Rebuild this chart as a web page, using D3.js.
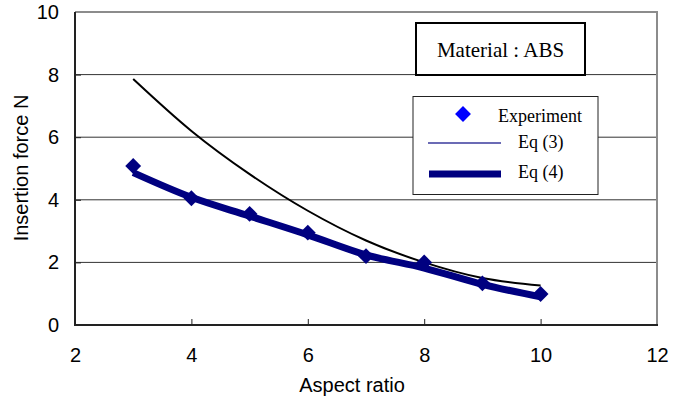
<!DOCTYPE html>
<html>
<head>
<meta charset="utf-8">
<script src="https://cdn.jsdelivr.net/npm/d3@7"></script>
<style>
  html, body { margin: 0; padding: 0; background: #fff; }
  svg { display: block; }
  .tick text { font-family: "Liberation Sans", Arial, sans-serif; font-size: 20px; fill: #000; }
</style>
</head>
<body>
<svg id="chart" width="683" height="396"></svg>
<script>
// Insertion force versus aspect ratio (material ABS)
const aspectRatio = [3, 4, 5, 6, 7, 8, 9, 10];
const experiment  = [5.08, 4.05, 3.55, 2.95, 2.2, 2.0, 1.33, 0.99];
const eq3         = [7.86, 6.2, 4.82, 3.65, 2.7, 2.0, 1.5, 1.26];
const eq4         = [4.87, 4.08, 3.48, 2.88, 2.24, 1.82, 1.3, 0.9];
const xTicks = [2, 4, 6, 8, 10, 12];
const yTicks = [0, 2, 4, 6, 8, 10];
const legendLabels = ["Experiment", "Eq (3)", "Eq (4)"];
const titleText = "Material : ABS";

const svg = d3.select("#chart");
const plotLeft = 75, plotRight = 657, plotTop = 12, plotBottom = 325;

const x = d3.scaleLinear().domain([2, 12]).range([plotLeft, plotRight]);
const y = d3.scaleLinear().domain([0, 10]).range([plotBottom, plotTop]);

// horizontal gridlines
svg.append("g").selectAll("line")
  .data(yTicks.filter(d => d > 0 && d < 10))
  .join("line")
  .attr("x1", plotLeft).attr("x2", plotRight)
  .attr("y1", d => y(d)).attr("y2", d => y(d))
  .attr("stroke", "#333").attr("stroke-width", 1);

// axes
const xAxis = svg.append("g")
  .attr("transform", `translate(0,${plotBottom})`)
  .call(d3.axisBottom(x).tickValues(xTicks).tickSizeInner(-6).tickSizeOuter(0).tickPadding(23));
xAxis.select(".domain").remove();
xAxis.selectAll(".tick line").attr("stroke", "#222").attr("stroke-width", 1);

const yAxis = svg.append("g")
  .attr("transform", `translate(${plotLeft},0)`)
  .call(d3.axisLeft(y).tickValues(yTicks).tickSizeInner(-6).tickSizeOuter(0).tickPadding(16));
yAxis.select(".domain").remove();
yAxis.selectAll(".tick line").attr("stroke", "#222");

// plot frame: light top/right, dark left/bottom
svg.append("line").attr("x1", plotLeft).attr("x2", plotRight + 1).attr("y1", plotTop).attr("y2", plotTop)
  .attr("stroke", "#8c8c8c").attr("stroke-width", 2);
svg.append("line").attr("x1", plotRight).attr("x2", plotRight).attr("y1", plotTop).attr("y2", plotBottom)
  .attr("stroke", "#8c8c8c").attr("stroke-width", 2);
svg.append("line").attr("x1", plotLeft).attr("x2", plotLeft).attr("y1", plotTop).attr("y2", plotBottom + 1)
  .attr("stroke", "#222").attr("stroke-width", 2);
svg.append("line").attr("x1", plotLeft - 1).attr("x2", plotRight + 1).attr("y1", plotBottom).attr("y2", plotBottom)
  .attr("stroke", "#222").attr("stroke-width", 2);

// Eq (4) thick line
const line = d3.line().x(d => x(d[0])).y(d => y(d[1])).curve(d3.curveMonotoneX);
svg.append("path")
  .datum(aspectRatio.map((a, i) => [a, eq4[i]]))
  .attr("d", line)
  .attr("fill", "none").attr("stroke", "#000080").attr("stroke-width", 7)
  .attr("stroke-linejoin", "round");

// Eq (3) curve
svg.append("path")
  .datum(aspectRatio.map((a, i) => [a, eq3[i]]))
  .attr("d", line)
  .attr("fill", "none").attr("stroke", "#000").attr("stroke-width", 2);

// experiment markers
const diamond = d3.symbol().type(d3.symbolDiamond2).size(160);
svg.append("g").selectAll("path")
  .data(aspectRatio.map((a, i) => [a, experiment[i]]))
  .join("path")
  .attr("d", diamond)
  .attr("transform", d => `translate(${x(d[0])},${y(d[1])})`)
  .attr("fill", "#000080");

// title box
svg.append("rect").attr("x", 416).attr("y", 23).attr("width", 169).attr("height", 52)
  .attr("fill", "#fff").attr("stroke", "#000").attr("stroke-width", 2);
svg.append("text").attr("x", 500.5).attr("y", 57).attr("text-anchor", "middle")
  .attr("font-family", "Liberation Serif, Times New Roman, serif").attr("font-size", 21)
  .text(titleText);

// legend
const lg = svg.append("g");
lg.append("rect").attr("x", 413).attr("y", 96.5).attr("width", 185).attr("height", 98)
  .attr("fill", "#fff").attr("stroke", "#222").attr("stroke-width", 1);
lg.append("path").attr("d", diamond).attr("transform", "translate(463,114)").attr("fill", "#0000ff");
lg.append("line").attr("x1", 428).attr("x2", 501).attr("y1", 143).attr("y2", 143)
  .attr("stroke", "#3a3a9c").attr("stroke-width", 1.5);
lg.append("line").attr("x1", 429).attr("x2", 501).attr("y1", 174).attr("y2", 174)
  .attr("stroke", "#000080").attr("stroke-width", 7);
const legendPos = [[498, 121.7], [518, 148.3], [518, 177.5]];
lg.selectAll("text.leg").data(legendLabels).join("text")
  .attr("class", "leg")
  .attr("x", (d, i) => legendPos[i][0]).attr("y", (d, i) => legendPos[i][1])
  .attr("font-family", "Liberation Serif, Times New Roman, serif").attr("font-size", 18)
  .text(d => d);

// axis titles
svg.append("text").attr("x", 352).attr("y", 392).attr("text-anchor", "middle")
  .attr("font-family", "Liberation Sans, Arial, sans-serif").attr("font-size", 20)
  .text("Aspect ratio");
svg.append("text").attr("transform", "translate(28,168) rotate(-90)").attr("text-anchor", "middle")
  .attr("font-family", "Liberation Sans, Arial, sans-serif").attr("font-size", 20)
  .text("Insertion force N");
</script>
</body>
</html>
